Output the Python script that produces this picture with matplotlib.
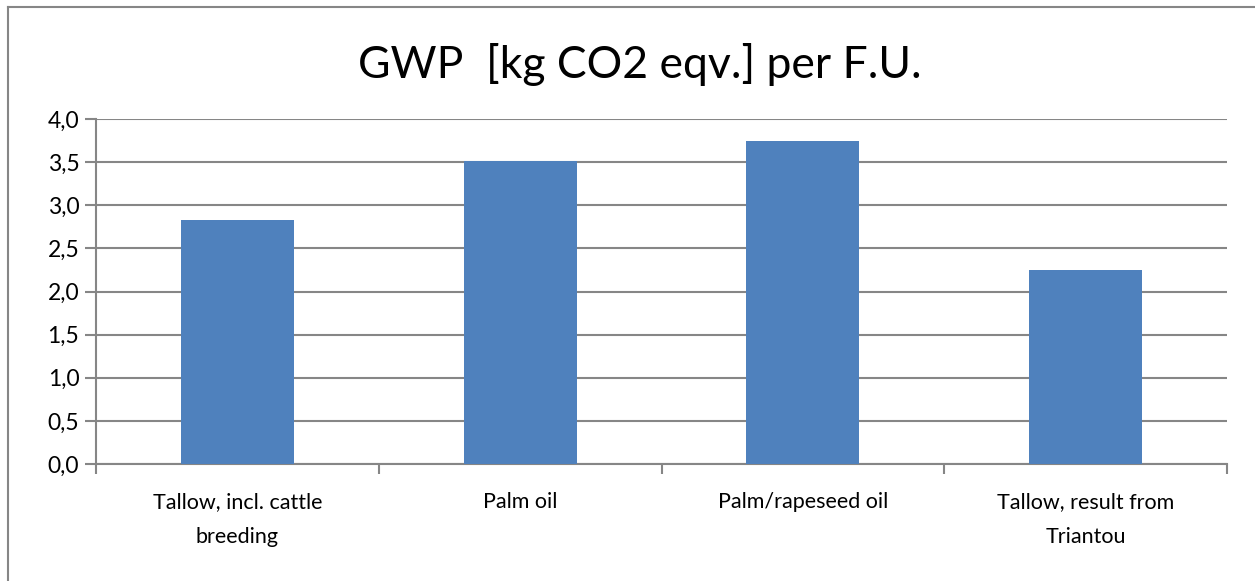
import matplotlib
matplotlib.use('Agg')
import matplotlib.pyplot as plt
import numpy as np

# data
categories = ['Tallow, incl. cattle\nbreeding', 'Palm oil', 'Palm/rapeseed oil', 'Tallow, result from\nTriantou']
gwp = [2.83, 3.51, 3.75, 2.25]
yticks = [0.0, 0.5, 1.0, 1.5, 2.0, 2.5, 3.0, 3.5, 4.0]
ytick_labels = ['0,0', '0,5', '1,0', '1,5', '2,0', '2,5', '3,0', '3,5', '4,0']

plt.rcParams['font.family'] = ['Lato', 'DejaVu Sans']
grey = '#868686'

fig = plt.figure(figsize=(12.55, 5.81), dpi=100)
ax = fig.add_axes([96/1255, 1 - 464/581, (1227 - 96)/1255, (464 - 119)/581])

x = np.arange(len(categories))
ax.bar(x, gwp, width=0.4, color='#4f81bd', zorder=3)

ax.set_xlim(-0.5, len(categories) - 0.5)
ax.set_ylim(0, 4.0)
ax.set_yticks(yticks)
ax.set_yticklabels(ytick_labels, fontsize=16.5)
ax.set_xticks(x)
ax.set_xticklabels(categories, fontsize=15.5, linespacing=1.95)
ax.tick_params(axis='x', length=0, pad=20)
ax.tick_params(axis='y', length=8, width=1.5, color=grey, pad=4)

# category separators below the axis
ax.set_xticks(np.arange(-0.5, len(categories)), minor=True)
ax.tick_params(axis='x', which='minor', length=7, width=1.5, color=grey)

ax.grid(axis='y', color=grey, linewidth=1.5, zorder=0)
for s in ['top', 'right']:
    ax.spines[s].set_visible(False)
for s in ['left', 'bottom']:
    ax.spines[s].set_color(grey)
    ax.spines[s].set_linewidth(1.5)

fig.text(640/1255, 1 - 64/581, 'GWP  [kg CO2 eqv.] per F.U.', fontsize=32,
         ha='center', va='center')

# outer chart frame (left and top edges visible)
fig.add_artist(plt.Line2D([8/1255, 8/1255], [0, 1 - 7/581], color=grey, linewidth=1.5))
fig.add_artist(plt.Line2D([8/1255, 1], [1 - 7/581, 1 - 7/581], color=grey, linewidth=1.5))

fig.savefig('out.png', dpi=100)
